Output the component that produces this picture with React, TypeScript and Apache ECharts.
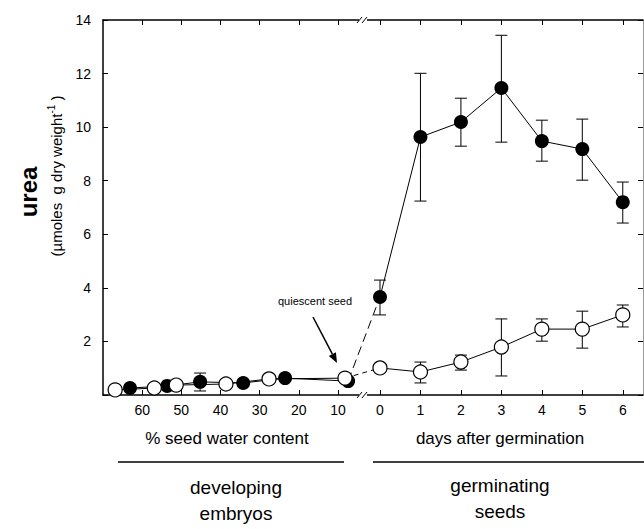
import React, { useEffect, useRef } from "react";
import * as echarts from "echarts";

// ---- data ----
const waterTicks = [10, 20, 30, 40, 50, 60];
const dayTicks = [0, 1, 2, 3, 4, 5, 6];

// developing embryos (x = % seed water content)
const devWaterFilled = [63.1, 53.6, 45.2, 34.2, 23.5, 7.4];
const devUreaFilled = [0.26, 0.34, 0.49, 0.45, 0.63, 0.52];
const devWaterOpen = [66.9, 56.9, 51.3, 38.6, 27.6, 8.2];
const devUreaOpen = [0.19, 0.26, 0.37, 0.41, 0.6, 0.63];
const devErrWater = [45.2];
const devErrLow = [0.15];
const devErrHigh = [0.82];

// germinating seeds (x = days after germination)
const days = [0, 1, 2, 3, 4, 5, 6];
const germUreaFilled = [3.66, 9.63, 10.19, 11.46, 9.48, 9.18, 7.2];
const germFilledLow = [2.99, 7.24, 9.29, 9.44, 8.73, 8.02, 6.42];
const germFilledHigh = [4.29, 12.01, 11.08, 13.43, 10.26, 10.3, 7.95];
const germUreaOpen = [1.01, 0.86, 1.23, 1.79, 2.46, 2.46, 2.99];
const germOpenLow = [null, 0.45, 0.93, 0.71, 2.01, 1.75, 2.54];
const germOpenHigh = [null, 1.23, 1.49, 2.84, 2.84, 3.13, 3.36];

const FONT = "'Liberation Sans', Arial, Helvetica, sans-serif";

function errData(xs: number[], lo: (number | null)[], hi: (number | null)[]) {
  const out: number[][] = [];
  xs.forEach((x, i) => {
    if (lo[i] != null && hi[i] != null) out.push([x, lo[i] as number, hi[i] as number]);
  });
  return out;
}

const errRender = (params: any, api: any) => {
  const x = api.value(0);
  const pHi = api.coord([x, api.value(2)]);
  const pLo = api.coord([x, api.value(1)]);
  const hw = 6;
  const st = { stroke: "#000", lineWidth: 1 };
  return {
    type: "group",
    children: [
      { type: "line", shape: { x1: pHi[0], y1: pHi[1], x2: pLo[0], y2: pLo[1] }, style: st },
      { type: "line", shape: { x1: pHi[0] - hw, y1: pHi[1], x2: pHi[0] + hw, y2: pHi[1] }, style: st },
      { type: "line", shape: { x1: pLo[0] - hw, y1: pLo[1], x2: pLo[0] + hw, y2: pLo[1] }, style: st },
    ],
  };
};

function xAxisBase(gridIndex: number, position: string, min: number, max: number, ticks: number[], inverse: boolean, labels: boolean) {
  return {
    type: "value",
    gridIndex,
    position,
    min,
    max,
    inverse,
    axisLine: { show: true, onZero: false, lineStyle: { color: "#000", width: 1.5 } },
    axisTick: { show: true, inside: true, length: 5, customValues: ticks, lineStyle: { color: "#000", width: 1 } },
    axisLabel: {
      show: labels,
      customValues: ticks,
      color: "#000",
      fontSize: 14,
      fontFamily: FONT,
      margin: 8,
    },
    splitLine: { show: false },
  };
}

export default function App() {
  const ref = useRef<HTMLDivElement>(null);
  useEffect(() => {
    if (!ref.current) return;
    const chart = echarts.init(ref.current, null, { renderer: "svg" });
    const option: any = {
      animation: false,
      backgroundColor: "#fff",
      grid: [
        { left: 103, top: 20, width: 260, height: 375 },
        { left: 363, top: 20, width: 280, height: 375 },
      ],
      xAxis: [
        xAxisBase(0, "bottom", 3.6, 70, waterTicks, true, true),
        xAxisBase(0, "top", 3.6, 70, waterTicks, true, false),
        xAxisBase(1, "bottom", -0.42, 6.5, dayTicks, false, true),
        xAxisBase(1, "top", -0.42, 6.5, dayTicks, false, false),
      ],
      yAxis: [
        {
          type: "value",
          gridIndex: 0,
          position: "left",
          min: 0,
          max: 14,
          interval: 2,
          axisLine: { show: true, onZero: false, lineStyle: { color: "#000", width: 1.5 } },
          axisTick: { show: true, inside: true, length: 5, lineStyle: { color: "#000" } },
          axisLabel: {
            color: "#000",
            fontSize: 14,
            fontFamily: FONT,
            margin: 12,
            formatter: (v: number) => (v === 0 ? "" : String(v)),
          },
          splitLine: { show: false },
        },
        {
          type: "value",
          gridIndex: 1,
          position: "right",
          min: 0,
          max: 14,
          interval: 2,
          axisLine: { show: true, onZero: false, lineStyle: { color: "#999", width: 1 } },
          axisTick: { show: true, inside: true, length: 5, lineStyle: { color: "#000" } },
          axisLabel: { show: false },
          splitLine: { show: false },
        },
      ],
      series: [
        {
          type: "custom",
          xAxisIndex: 0,
          yAxisIndex: 0,
          renderItem: errRender,
          encode: { x: 0, y: [1, 2] },
          data: errData(devErrWater, devErrLow, devErrHigh),
        },
        {
          type: "custom",
          xAxisIndex: 2,
          yAxisIndex: 1,
          renderItem: errRender,
          encode: { x: 0, y: [1, 2] },
          data: errData(days, germFilledLow, germFilledHigh),
        },
        {
          type: "custom",
          xAxisIndex: 2,
          yAxisIndex: 1,
          renderItem: errRender,
          encode: { x: 0, y: [1, 2] },
          data: errData(days, germOpenLow, germOpenHigh),
        },
        {
          name: "devFilled",
          type: "line",
          xAxisIndex: 0,
          yAxisIndex: 0,
          symbol: "circle",
          symbolSize: 14,
          itemStyle: { color: "#000" },
          lineStyle: { color: "#000", width: 1 },
          data: devWaterFilled.map((w, i) => [w, devUreaFilled[i]]),
        },
        {
          name: "devOpen",
          type: "line",
          xAxisIndex: 0,
          yAxisIndex: 0,
          symbol: "circle",
          symbolSize: 14,
          itemStyle: { color: "#fff", borderColor: "#000", borderWidth: 1.2 },
          lineStyle: { color: "#000", width: 1 },
          data: devWaterOpen.map((w, i) => [w, devUreaOpen[i]]),
        },
        {
          name: "germOpen",
          type: "line",
          xAxisIndex: 2,
          yAxisIndex: 1,
          symbol: "circle",
          symbolSize: 14,
          itemStyle: { color: "#fff", borderColor: "#000", borderWidth: 1.2 },
          lineStyle: { color: "#000", width: 1 },
          data: days.map((d, i) => [d, germUreaOpen[i]]),
        },
        {
          name: "germFilled",
          type: "line",
          xAxisIndex: 2,
          yAxisIndex: 1,
          symbol: "circle",
          symbolSize: 14,
          itemStyle: { color: "#000" },
          lineStyle: { color: "#000", width: 1 },
          data: days.map((d, i) => [d, germUreaFilled[i]]),
        },
      ],
    };
    chart.setOption(option);

    // connectors from the quiescent seed to day 0 (through the library's scales)
    const qF = chart.convertToPixel({ seriesIndex: 3 }, [devWaterFilled[5], devUreaFilled[5]]) as number[];
    const qO = chart.convertToPixel({ seriesIndex: 4 }, [devWaterOpen[5], devUreaOpen[5]]) as number[];
    const d0F = chart.convertToPixel({ seriesIndex: 6 }, [days[0], germUreaFilled[0]]) as number[];
    const d0O = chart.convertToPixel({ seriesIndex: 5 }, [days[0], germUreaOpen[0]]) as number[];

    const txt = (text: string, x: number, y: number, size: number, align = "center", weight = "normal") => ({
      type: "text",
      x,
      y,
      style: {
        text,
        fill: "#000",
        font: `${weight} ${size}px ${FONT}`,
        textAlign: align,
        align,
        textVerticalAlign: "middle",
        verticalAlign: "middle",
      },
    });

    const breakMark = (cx: number, cy: number) => [
      { type: "rect", shape: { x: cx - 4, y: cy - 2, width: 8, height: 4 }, style: { fill: "#fff" }, z: 10 },
      { type: "line", shape: { x1: cx - 6, y1: cy + 3, x2: cx - 1, y2: cy - 3 }, style: { stroke: "#000", lineWidth: 1 }, z: 11 },
      { type: "line", shape: { x1: cx - 1, y1: cy + 3, x2: cx + 4, y2: cy - 3 }, style: { stroke: "#000", lineWidth: 1 }, z: 11 },
    ];

    // arrow for "quiescent seed"
    const ax1 = 313, ay1 = 317, ax2 = 337, ay2 = 363;
    const dl = Math.hypot(ax2 - ax1, ay2 - ay1);
    const ux = (ax2 - ax1) / dl, uy = (ay2 - ay1) / dl;
    const bx = ax2 - ux * 10, by = ay2 - uy * 10;
    const px = -uy * 4, py = ux * 4;

    chart.setOption({
      graphic: [
        { type: "line", shape: { x1: qF[0], y1: qF[1], x2: d0F[0], y2: d0F[1] }, style: { stroke: "#000", lineWidth: 1, lineDash: [9, 5] } },
        { type: "line", shape: { x1: qO[0], y1: qO[1], x2: d0O[0], y2: d0O[1] }, style: { stroke: "#000", lineWidth: 1, lineDash: [5, 4] } },
        ...breakMark(363, 395),
        ...breakMark(363, 20),
        { type: "line", shape: { x1: ax1, y1: ay1, x2: bx, y2: by }, style: { stroke: "#000", lineWidth: 1.5 } },
        {
          type: "polygon",
          shape: { points: [[ax2, ay2], [bx + px, by + py], [bx - px, by - py]] },
          style: { fill: "#000" },
        },
        txt("quiescent seed", 352, 301, 11, "right"),
        txt("% seed water content", 227, 438, 17),
        txt("days after germination", 500, 438, 17),
        { type: "line", shape: { x1: 118, y1: 462, x2: 344, y2: 462 }, style: { stroke: "#000", lineWidth: 1.5 } },
        { type: "line", shape: { x1: 373, y1: 462, x2: 644, y2: 462 }, style: { stroke: "#000", lineWidth: 1.5 } },
        txt("developing", 236, 487, 19),
        txt("embryos", 236, 513, 19),
        txt("germinating", 500, 485, 19),
        txt("seeds", 500, 511, 19),
        {
          type: "text",
          x: 28,
          y: 192,
          rotation: Math.PI / 2,
          style: {
            text: "urea",
            fill: "#000",
            font: `bold 24px ${FONT}`,
            textAlign: "center",
            align: "center",
            textVerticalAlign: "middle",
            verticalAlign: "middle",
          },
        },
        {
          type: "text",
          x: 56,
          y: 176,
          rotation: Math.PI / 2,
          style: {
            text: "{a|(µmoles  g dry weight}{s|-1}{a| )}",
            textAlign: "center",
            align: "center",
            textVerticalAlign: "middle",
            verticalAlign: "middle",
            rich: {
              a: { fill: "#000", fontSize: 15, fontFamily: FONT, lineHeight: 20 },
              s: { fill: "#000", fontSize: 10, fontFamily: FONT, lineHeight: 10, verticalAlign: "top" },
            },
          },
        },
      ],
    });

    return () => chart.dispose();
  }, []);
  return <div ref={ref} style={{ position: "absolute", left: 0, top: 0, width: 644, height: 529 }} />;
}
